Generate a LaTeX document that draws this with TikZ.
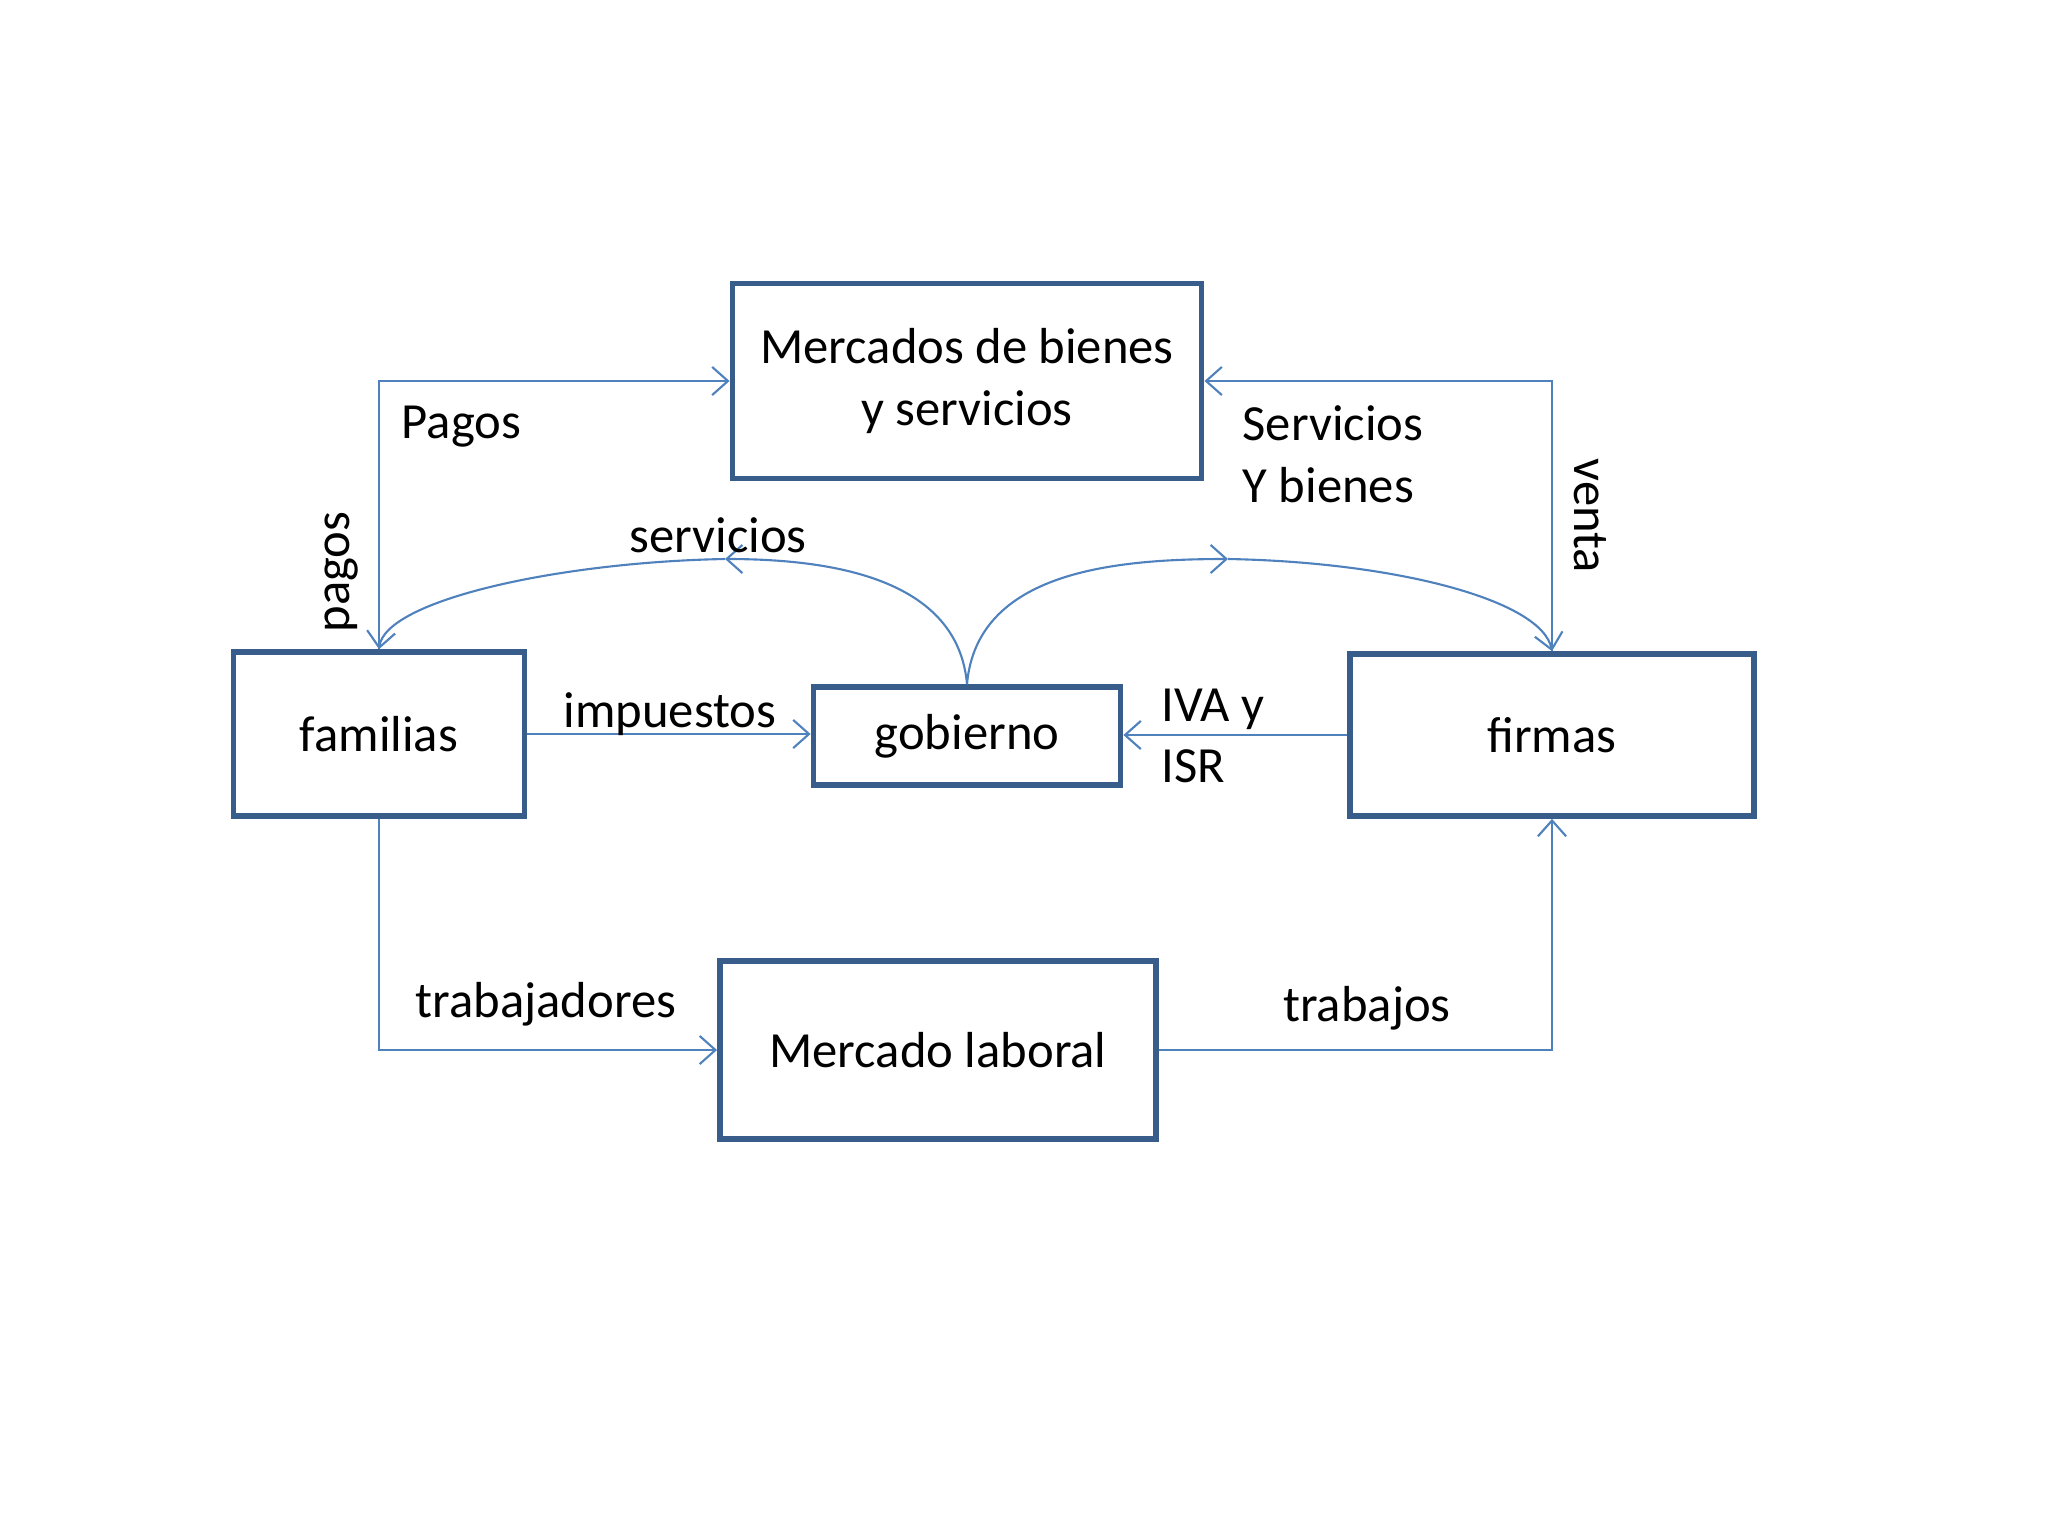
\documentclass[tikz,border=0pt]{standalone}
\usepackage{fontspec}
\setmainfont{Carlito}
\usetikzlibrary{arrows.meta}
\definecolor{boxblue}{HTML}{385D8A}
\definecolor{flowblue}{HTML}{4F81BD}
\tikzset{
  box/.style={draw=boxblue,line width=1.6pt,inner sep=0pt,align=center},
  flow/.style={draw=flowblue,line width=0.6pt,-{Straight Barb[length=4.5pt,width=8pt]}},
  lbl/.style={inner sep=0pt}
}
\begin{document}
\begin{tikzpicture}[x=0.01cm,y=0.01cm,font=\fontsize{14.4}{17.5}\selectfont]
  \useasboundingbox (0,0) rectangle (2048,-1536);
  % Markets, households, government and firms.
  \node[box,minimum width=4.69cm,minimum height=1.95cm] (mercados) at (967,-381) {Mercados de bienes\\y servicios};
  \node[box,minimum width=2.91cm,minimum height=1.64cm] (familias) at (379,-734) {familias};
  \node[box,minimum width=3.07cm,minimum height=0.98cm] (gobierno) at (967,-736) {gobierno};
  \node[box,minimum width=4.04cm,minimum height=1.62cm] (firmas) at (1552,-735) {firmas};
  \node[box,minimum width=4.36cm,minimum height=1.78cm] (laboral) at (938,-1050) {Mercado laboral};
  % Flows around the goods market.
  \draw[flow] (familias.north) |- (mercados.west);
  \draw[flow] (firmas.north) |- (mercados.east);
  % Taxes go to the government.
  \draw[flow] (familias.east) -- (familias.east -| gobierno.west);
  \draw[flow] (firmas.west) -- (firmas.west -| gobierno.east);
  % Labour market.
  \draw[flow] (familias.south) |- (laboral.west);
  \draw[flow] (laboral.east) -| (firmas.south);
  % Services from the government, arrow at the top of each arc.
  \coordinate (cimaIzq) at (725,-559);
  \coordinate (cimaDer) at (1228,-559);
  \draw[flow] (gobierno.north) to[out=95,in=0] (cimaIzq);
  \draw[flow] (cimaIzq) .. controls (560,-562) and (385,-600) .. (familias.north);
  \draw[flow] (gobierno.north) to[out=85,in=180] (cimaDer);
  \draw[flow] (cimaDer) .. controls (1395,-562) and (1542,-600) .. (firmas.north);
  % Labels.
  \node[lbl,anchor=west] (pagosA) at (401,-427) {Pagos};
  \node[lbl,rotate=90] (pagosB) at (342,-572) {pagos};
  \node[lbl] (servA) at (718,-535) {servicios};
  \node[lbl,anchor=west,align=left] (servB) at (1242,-454) {Servicios\\Y bienes};
  \node[lbl,rotate=-90] (venta) at (1590,-516) {venta};
  \node[lbl] (impuestos) at (670,-714) {impuestos};
  \node[lbl,anchor=west,align=left] (iva) at (1161,-736) {IVA y\\ISR};
  \node[lbl] (trabajadores) at (546,-1004) {trabajadores};
  \node[lbl] (trabajos) at (1367,-1008) {trabajos};
\end{tikzpicture}
\end{document}
